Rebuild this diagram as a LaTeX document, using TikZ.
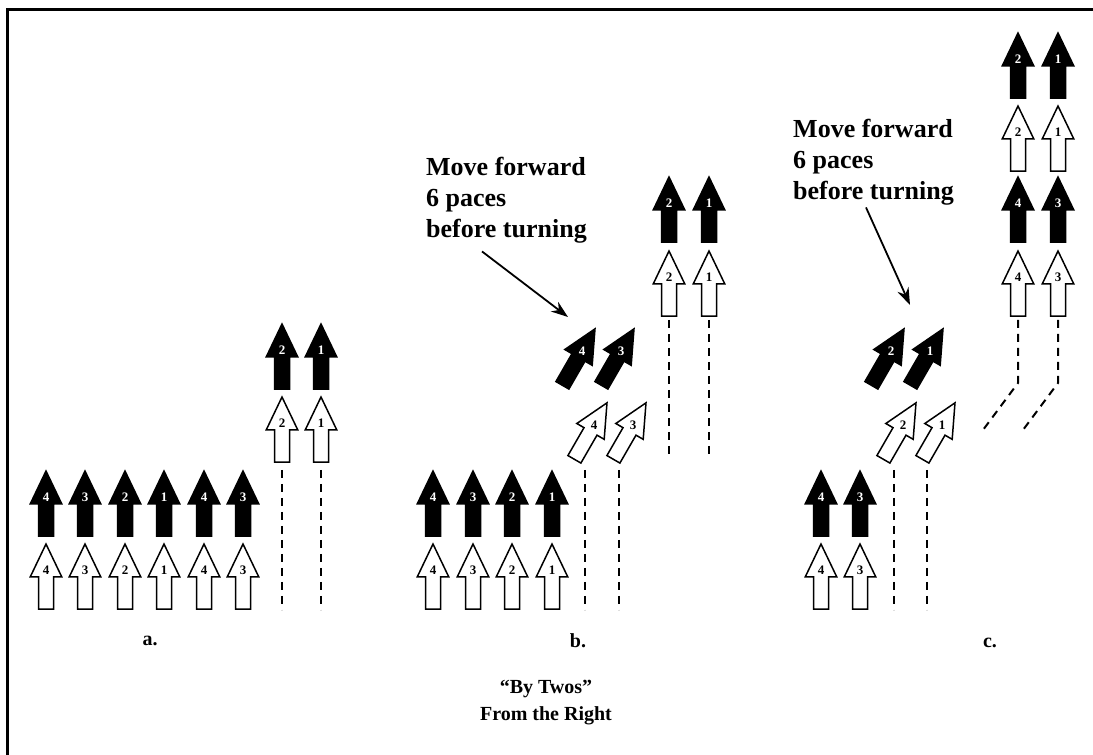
\documentclass[tikz,border=0pt]{standalone}
\usepackage{fontspec}
\setmainfont{Liberation Serif}
\usepackage{tikz}
\usetikzlibrary{arrows.meta}

\begin{document}
\begin{tikzpicture}[x=1pt, y=1pt,
            num/.style={inner sep=0pt, font=\fontsize{13}{13}\selectfont\bfseries},
            note/.style={inner sep=0pt, align=left, anchor=north west, font=\fontsize{26}{31}\selectfont\bfseries},
            tag/.style={inner sep=0pt, align=center, font=\fontsize{20}{27}\selectfont\bfseries},
            trail/.style={line width=2pt, dash pattern=on 8pt off 6pt},
            pointer/.style={line width=1.8pt, -{Stealth[length=17pt, width=12pt]}},
            blkman/.pic={
                \filldraw[line width=1.5pt, line join=miter] (-7.5,0.8) -- (7.5,0.8) -- (7.5,33) -- (15.8,33) -- (0,66) -- (-15.8,33) -- (-7.5,33) -- cycle;
                \node[num, text=white] (-n) at (0,40) {#1};
            },
            whtman/.pic={
                \filldraw[fill=white, line width=1.5pt, line join=miter] (-7.5,0.8) -- (7.5,0.8) -- (7.5,33) -- (15.8,33) -- (0,66) -- (-15.8,33) -- (-7.5,33) -- cycle;
                \node[num] (-n) at (0,40) {#1};
            }]
            \useasboundingbox (0,0) rectangle (1093,755);
            \draw[line width=3pt] (1093,745) -- (7,745) -- (7,0);

            % Panel a
            \pic (ab4) at (46,218) {blkman=4};
            \pic (ab3) at (85,218) {blkman=3};
            \pic (ab2) at (125,218) {blkman=2};
            \pic (ab1) at (164,218) {blkman=1};
            \pic (ab4r) at (204,218) {blkman=4};
            \pic (ab3r) at (243,218) {blkman=3};
            \pic (aw4) at (46,145) {whtman=4};
            \pic (aw3) at (85,145) {whtman=3};
            \pic (aw2) at (125,145) {whtman=2};
            \pic (aw1) at (164,145) {whtman=1};
            \pic (aw4r) at (204,145) {whtman=4};
            \pic (aw3r) at (243,145) {whtman=3};
            \pic (au2) at (282,365) {blkman=2};
            \pic (au1) at (321,365) {blkman=1};
            \pic (av2) at (282,292) {whtman=2};
            \pic (av1) at (321,292) {whtman=1};
            \draw[trail] (282,285) -- (282,145);
            \draw[trail] (321,285) -- (321,145);
            \node[tag] (la) at (150,114) {a.};

            % Panel b
            \pic (bb4) at (433,218) {blkman=4};
            \pic (bb3) at (473,218) {blkman=3};
            \pic (bb2) at (512,218) {blkman=2};
            \pic (bb1) at (552,218) {blkman=1};
            \pic (bw4) at (433,145) {whtman=4};
            \pic (bw3) at (473,145) {whtman=3};
            \pic (bw2) at (512,145) {whtman=2};
            \pic (bw1) at (552,145) {whtman=1};
            \pic[rotate=-30] (bd4) at (562,369) {blkman=4};
            \pic[rotate=-30] (bd3) at (601,369) {blkman=3};
            \pic[rotate=-30] (be4) at (574,295) {whtman=4};
            \pic[rotate=-30] (be3) at (613,295) {whtman=3};
            \pic (bu2) at (669,512) {blkman=2};
            \pic (bu1) at (709,512) {blkman=1};
            \pic (bv2) at (669,438) {whtman=2};
            \pic (bv1) at (709,438) {whtman=1};
            \draw[trail] (669,435) -- (669,297);
            \draw[trail] (709,435) -- (709,297);
            \draw[trail] (585,285) -- (585,145);
            \draw[trail] (619,285) -- (619,145);
            \node[note] (mb) at (426,598) {Move forward\\6 paces\\before turning};
            \coordinate (tb) at (568,438);
            \draw[pointer] ([xshift=56pt, yshift=-8pt]mb.south west) -- (tb);
            \node[tag] (lb) at (578,114) {b.};

            % Panel c
            \pic (cb4) at (821,218) {blkman=4};
            \pic (cb3) at (860,218) {blkman=3};
            \pic (cw4) at (821,145) {whtman=4};
            \pic (cw3) at (860,145) {whtman=3};
            \pic[rotate=-30] (cd2) at (871,369) {blkman=2};
            \pic[rotate=-30] (cd1) at (910,369) {blkman=1};
            \pic[rotate=-30] (ce2) at (883,295) {whtman=2};
            \pic[rotate=-30] (ce1) at (922,295) {whtman=1};
            \pic (cu2) at (1018,656) {blkman=2};
            \pic (cu1) at (1058,656) {blkman=1};
            \pic (cv2) at (1018,583) {whtman=2};
            \pic (cv1) at (1058,583) {whtman=1};
            \pic (cu4) at (1018,512) {blkman=4};
            \pic (cu3) at (1058,512) {blkman=3};
            \pic (cv4) at (1018,438) {whtman=4};
            \pic (cv3) at (1058,438) {whtman=3};
            \draw[trail] (1018,435) -- (1018,372) -- (983,325);
            \draw[trail] (1058,435) -- (1058,372) -- (1023,325);
            \draw[trail] (894,285) -- (894,145);
            \draw[trail] (927,285) -- (927,145);
            \node[note] (mc) at (793,636) {Move forward\\6 paces\\before turning};
            \coordinate (tc) at (910,450);
            \draw[pointer] ([xshift=73pt, yshift=-2pt]mc.south west) -- (tc);
            \node[tag] (lc) at (990,112) {c.};

            % Title
            \node[tag] (title) at (546,52) {“By Twos”\\From the Right};
        \end{tikzpicture}
\end{document}
